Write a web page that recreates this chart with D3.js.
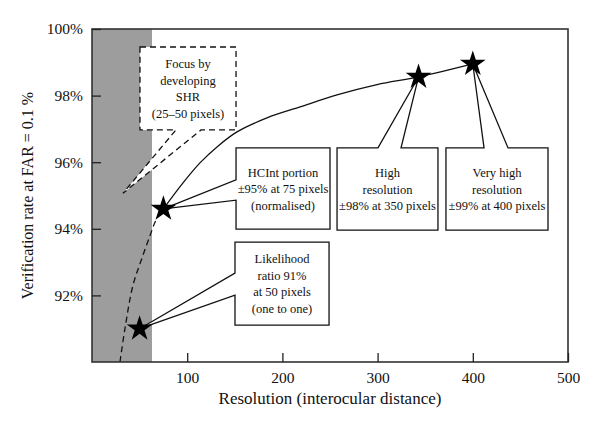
<!DOCTYPE html>
<html>
<head>
<meta charset="utf-8">
<script src="https://cdn.jsdelivr.net/npm/d3@7"></script>
<style>
  body { margin: 0; background: #fff; }
  text { font-family: "Liberation Serif", "DejaVu Serif", serif; fill: #111; }
</style>
</head>
<body>
<div id="chart"></div>
<script>

/// the data

const solidX = [75, 95.6, 113.4, 131.3, 152.3, 183.8, 218.5, 257.4, 299.4, 343, 400];
const solidY = [94.6, 95.38, 95.98, 96.46, 96.91, 97.33, 97.66, 98.02, 98.33, 98.56, 98.95];

const dashedX = [29.4, 34.7, 43, 52.5, 61, 67.2, 75];
const dashedY = [90, 91.02, 92.3, 93.12, 93.8, 94.26, 94.6];

const starX = [50, 75, 343, 400];
const starY = [91.0, 94.6, 98.56, 98.95];

const bandRange = [0, 63];

const xTicks = [100, 200, 300, 400, 500];
const yTicks = [92, 94, 96, 98, 100];

// callouts: text lines, box (data units), wedge base on box edge, wedge tip
const calloutText = [
  ["Focus by", "developing", "SHR", "(25\u201350 pixels)"],
  ["HCInt portion", "\u00b195% at 75 pixels", "(normalised)"],
  ["Likelihood", "ratio 91%", "at 50 pixels", "(one to one)"],
  ["High", "resolution", "\u00b198% at 350 pixels"],
  ["Very high", "resolution", "\u00b199% at 400 pixels"]
];
const calloutBox = [
  [50.4, 151.3, 96.97, 99.46],
  [151.3, 250, 93.99, 96.43],
  [150.2, 249, 91.11, 93.6],
  [257.4, 363.4, 93.96, 96.43],
  [371.8, 479, 93.96, 96.43]
];
const calloutSide = ["bottom", "left", "left", "top", "top"];
const calloutBase = [[88.2, 114.5], [95.47, 94.86], [92.67, 92.01], [300.4, 324.6], [411.8, 437]];
const calloutTip = [[32.6, 95.07], [75, 94.6], [50, 91.0], [343, 98.56], [400, 98.95]];
const calloutDashed = [true, false, false, false, false];


///////////////////////////////////////////////////////////////////////////////

const width = 600, height = 430;
const margin = { top: 29, right: 32, bottom: 68, left: 92 };

const svg = d3.select("#chart").append("svg")
  .attr("width", width)
  .attr("height", height);

const x = d3.scaleLinear()
  .domain([0, 500])
  .range([margin.left, width - margin.right]);

const y = d3.scaleLinear()
  .domain([90, 100])
  .range([height - margin.bottom, margin.top]);

// grey band
svg.append("rect")
  .attr("x", x(bandRange[0]))
  .attr("y", y(100))
  .attr("width", x(bandRange[1]) - x(bandRange[0]))
  .attr("height", y(90) - y(100))
  .style("fill", "#9d9d9d");

// curves
const line = d3.line()
  .x(d => x(d[0]))
  .y(d => y(d[1]))
  .curve(d3.curveCatmullRom.alpha(0.5));

svg.append("path")
  .datum(d3.zip(solidX, solidY))
  .attr("d", line)
  .style("fill", "none")
  .style("stroke", "#111")
  .style("stroke-width", 1.3);

svg.append("path")
  .datum(d3.zip(dashedX, dashedY))
  .attr("d", line)
  .style("fill", "none")
  .style("stroke", "#111")
  .style("stroke-width", 1.3)
  .style("stroke-dasharray", "6,4");

// callouts as one outline: box plus the wedge
function calloutPath(i) {
  const b = calloutBox[i];
  const x0 = x(b[0]), x1 = x(b[1]), yt = y(b[3]), yb = y(b[2]);
  const t = calloutTip[i], base = calloutBase[i];
  const tx = x(t[0]), ty = y(t[1]);
  const p = d3.path();
  if (calloutSide[i] == "left") {
    p.moveTo(x0, yt); p.lineTo(x1, yt); p.lineTo(x1, yb); p.lineTo(x0, yb);
    p.lineTo(x0, y(base[1])); p.lineTo(tx, ty); p.lineTo(x0, y(base[0]));
  } else if (calloutSide[i] == "top") {
    p.moveTo(x0, yt); p.lineTo(x(base[0]), yt); p.lineTo(tx, ty); p.lineTo(x(base[1]), yt);
    p.lineTo(x1, yt); p.lineTo(x1, yb); p.lineTo(x0, yb);
  } else {
    p.moveTo(x0, yt); p.lineTo(x1, yt); p.lineTo(x1, yb);
    p.lineTo(x(base[1]), yb); p.lineTo(tx, ty); p.lineTo(x(base[0]), yb); p.lineTo(x0, yb);
  }
  p.closePath();
  return p.toString();
}

const callouts = svg.selectAll("g.callout")
  .data(calloutText)
  .enter()
  .append("g")
  .attr("class", "callout");

callouts.append("path")
  .attr("d", (d, i) => calloutPath(i))
  .style("fill", "#fff")
  .style("stroke", "#111")
  .style("stroke-width", 1.3)
  .style("stroke-linejoin", "miter")
  .style("stroke-dasharray", (d, i) => calloutDashed[i] ? "6,4" : null);

const lh = 16.5;
callouts.each(function(lines, i) {
  const b = calloutBox[i];
  const cx = (x(b[0]) + x(b[1])) / 2;
  const cy = (y(b[2]) + y(b[3])) / 2;
  d3.select(this).selectAll("text")
    .data(lines)
    .enter()
    .append("text")
    .attr("x", cx)
    .attr("y", (d, j) => cy + (j - (lines.length - 1) / 2) * lh + 4.5)
    .style("text-anchor", "middle")
    .style("font-size", "12.5px")
    .text(d => d);
});

// stars
svg.selectAll("path.star")
  .data(d3.zip(starX, starY))
  .enter()
  .append("path")
  .attr("class", "star")
  .attr("transform", d => `translate(${x(d[0])},${y(d[1])})`)
  .attr("d", d3.symbol(d3.symbolStar, 205))
  .style("fill", "#000");

// frame
svg.append("rect")
  .attr("x", x(0))
  .attr("y", y(100))
  .attr("width", x(500) - x(0))
  .attr("height", y(90) - y(100))
  .style("fill", "none")
  .style("stroke", "#333")
  .style("stroke-width", 1.6);

// axes, ticks pointing in
const xAxis = d3.axisBottom(x)
  .tickValues(xTicks)
  .tickSizeInner(-9)
  .tickSizeOuter(0)
  .tickPadding(10)
  .tickFormat(d3.format("d"));

const gx = svg.append("g")
  .attr("transform", `translate(0,${y(90)})`)
  .call(xAxis);

const yAxis = d3.axisLeft(y)
  .tickValues(yTicks)
  .tickSizeInner(-9)
  .tickSizeOuter(0)
  .tickPadding(9)
  .tickFormat(d => d + "%");

const gy = svg.append("g")
  .attr("transform", `translate(${x(0)},0)`)
  .call(yAxis);

[gx, gy].forEach(g => {
  g.select(".domain").remove();
  g.selectAll(".tick line").style("stroke", "#222").style("stroke-width", 1.3);
  g.selectAll(".tick text")
    .style("font-family", '"Liberation Serif", serif')
    .style("font-size", "15.5px")
    .style("fill", "#111");
});

// axis titles
svg.append("text")
  .attr("x", (x(0) + x(500)) / 2)
  .attr("y", 404)
  .style("text-anchor", "middle")
  .style("font-size", "17px")
  .text("Resolution (interocular distance)");

svg.append("text")
  .attr("transform", `translate(33,${(y(90) + y(100)) / 2}) rotate(-90)`)
  .style("text-anchor", "middle")
  .style("font-size", "16px")
  .text("Verification rate at FAR = 0.1 %");

</script>
</body>
</html>
